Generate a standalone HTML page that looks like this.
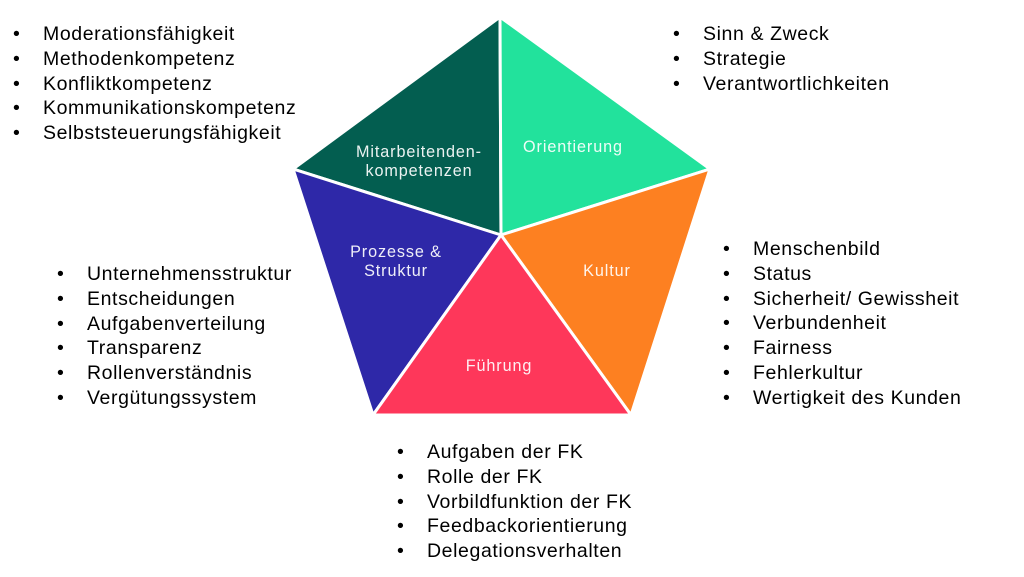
<!DOCTYPE html>
<html><head><meta charset="utf-8"><style>
body{margin:0;width:1024px;height:577px;background:#fff;position:relative;overflow:hidden;font-family:"Liberation Sans",Arial,sans-serif;}
.l{position:absolute;font-size:19.5px;letter-spacing:0.6px;line-height:24.8px;color:#000;white-space:nowrap}
.l div{position:relative;padding-left:var(--p)}
.l div:before{content:"•";position:absolute;left:0}
svg{position:absolute;left:0;top:0}
</style></head><body>
<svg width="1024" height="577">
<g stroke="#fff" stroke-width="3" stroke-linejoin="miter">
<polygon points="500,17 293,169 501,235" fill="#035e50"/>
<polygon points="500,17 710,169 501,235" fill="#22e29c"/>
<polygon points="293,169 373,415 501,235" fill="#2e28a8"/>
<polygon points="710,169 631,415 501,235" fill="#fd8021"/>
<polygon points="373,415 631,415 501,235" fill="#fe375a"/>
</g>
<g fill="#fff" font-family="Liberation Sans,sans-serif" font-size="16.2" letter-spacing="0.9" text-anchor="middle" opacity="0.92">
<text x="419" y="157">Mitarbeitenden-</text>
<text x="419" y="176">kompetenzen</text>
<text x="573" y="152">Orientierung</text>
<text x="396" y="257">Prozesse &amp;</text>
<text x="396" y="276">Struktur</text>
<text x="607" y="276">Kultur</text>
<text x="499" y="371">Führung</text>
</g>
</svg>
<div class="l" style="left:13px;top:22px;--p:30px">
<div>Moderationsfähigkeit</div><div>Methodenkompetenz</div><div>Konfliktkompetenz</div><div>Kommunikationskompetenz</div><div>Selbststeuerungsfähigkeit</div></div>
<div class="l" style="left:673px;top:22px;--p:30px">
<div>Sinn &amp; Zweck</div><div>Strategie</div><div>Verantwortlichkeiten</div></div>
<div class="l" style="left:57px;top:262px;--p:30px">
<div>Unternehmensstruktur</div><div>Entscheidungen</div><div>Aufgabenverteilung</div><div>Transparenz</div><div>Rollenverständnis</div><div>Vergütungssystem</div></div>
<div class="l" style="left:723px;top:237px;--p:30px">
<div>Menschenbild</div><div>Status</div><div>Sicherheit/ Gewissheit</div><div>Verbundenheit</div><div>Fairness</div><div>Fehlerkultur</div><div>Wertigkeit des Kunden</div></div>
<div class="l" style="left:397px;top:440px;--p:30px">
<div>Aufgaben der FK</div><div>Rolle der FK</div><div>Vorbildfunktion der FK</div><div>Feedbackorientierung</div><div>Delegationsverhalten</div></div>
</body></html>
